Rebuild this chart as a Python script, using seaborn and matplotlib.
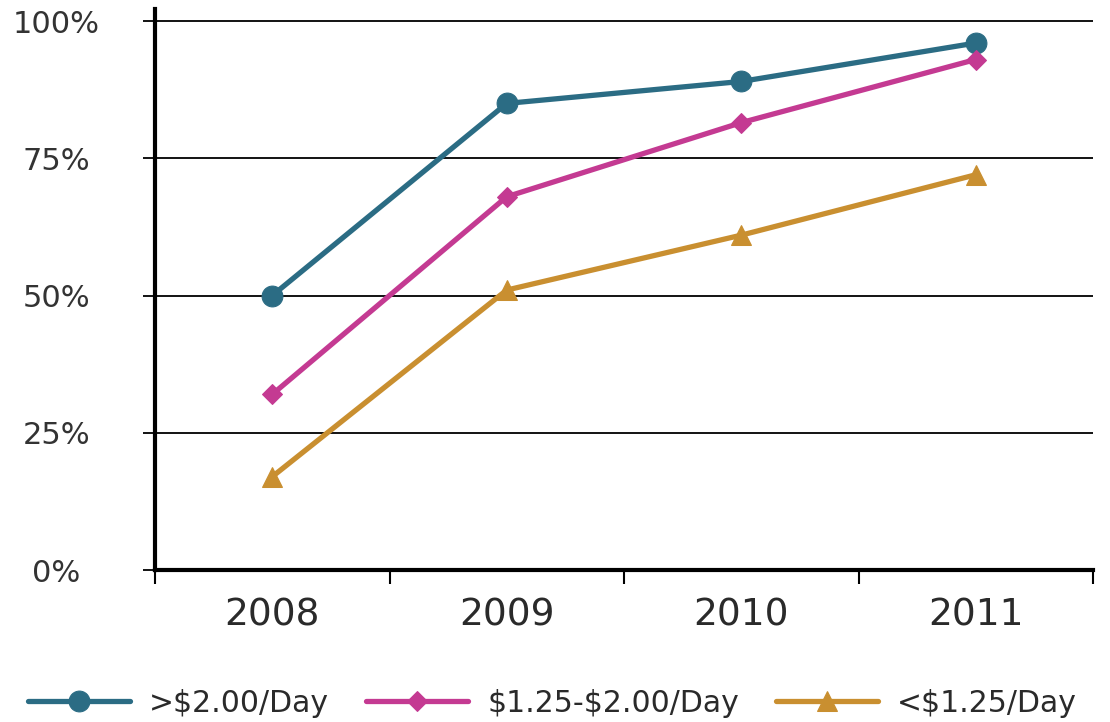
import matplotlib
matplotlib.use("Agg")
import matplotlib.pyplot as plt
from matplotlib.ticker import FixedLocator
import seaborn as sns
import pandas as pd

# ---- data ----
years = ["2008", "2009", "2010", "2011"]
series_names = [">$2.00/Day", "$1.25-$2.00/Day", "<$1.25/Day"]
above_2 = [50, 85, 89, 96]
between = [32, 68, 81.5, 93]
below_125 = [17, 51, 61, 72]
y_ticks = [0, 25, 50, 75, 100]
y_tick_labels = ["0%", "25%", "50%", "75%", "100%"]

colors = ["#2B6C84", "#C43A92", "#C98F30"]
markers = ["o", "D", "^"]

df = pd.DataFrame({
    "year": years * 3,
    "value": above_2 + between + below_125,
    "series": [series_names[0]] * 4 + [series_names[1]] * 4 + [series_names[2]] * 4,
})

sns.set_style("white")
plt.rcParams["font.family"] = ["DejaVu Sans"]
plt.rcParams["text.parse_math"] = False

fig = plt.figure(figsize=(11.1, 7.22), dpi=100)
ax = fig.add_axes([155 / 1110, 1 - 570 / 722, (1093 - 155) / 1110, (570 - 9) / 722])

sns.lineplot(data=df, x="year", y="value", hue="series", style="series",
             hue_order=series_names, style_order=series_names,
             palette=dict(zip(series_names, colors)),
             markers=dict(zip(series_names, markers)), dashes=False,
             linewidth=3.8, markersize=14, legend=False, ax=ax, zorder=3)

msizes = [15, 10.5, 15]
for ln, ms, c in zip(ax.lines[:3], msizes, colors):
    ln.set_markersize(ms)
    ln.set_markeredgecolor(c)
    ln.set_markerfacecolor(c)

ax.set_xlim(-0.5, 3.5)
ax.set_ylim(0, 102.2)
ax.set_xlabel("")
ax.set_ylabel("")

ax.set_yticks(y_ticks)
ax.set_yticklabels(y_tick_labels)
ax.yaxis.grid(True, color="black", linewidth=1.3)
ax.xaxis.grid(False)
ax.set_axisbelow(True)

for s in ["top", "right"]:
    ax.spines[s].set_visible(False)
for s in ["left", "bottom"]:
    ax.spines[s].set_linewidth(3)
    ax.spines[s].set_color("black")

ax.tick_params(axis="y", which="major", length=9, width=1.3, color="black",
               direction="out", pad=62, labelsize=22, labelcolor="#333333", left=True)
for lab in ax.get_yticklabels():
    lab.set_horizontalalignment("center")

ax.tick_params(axis="x", which="major", length=0, pad=20, labelsize=27,
               labelcolor="#2a2a2a", bottom=True)
ax.xaxis.set_minor_locator(FixedLocator([-0.5, 0.5, 1.5, 2.5, 3.5]))
ax.tick_params(axis="x", which="minor", length=10, width=1.5, color="black",
               direction="out", bottom=True)

leg = fig.legend(handles=ax.lines[:3], labels=series_names, ncol=3,
                 loc="center left", bbox_to_anchor=(28 / 1110, 1 - 703 / 722),
                 frameon=False, fontsize=21.5, handlelength=3.4, handletextpad=0.65,
                 columnspacing=1.25, borderpad=0, borderaxespad=0, labelcolor="#2a2a2a")

fig.savefig("out.png", dpi=100)
